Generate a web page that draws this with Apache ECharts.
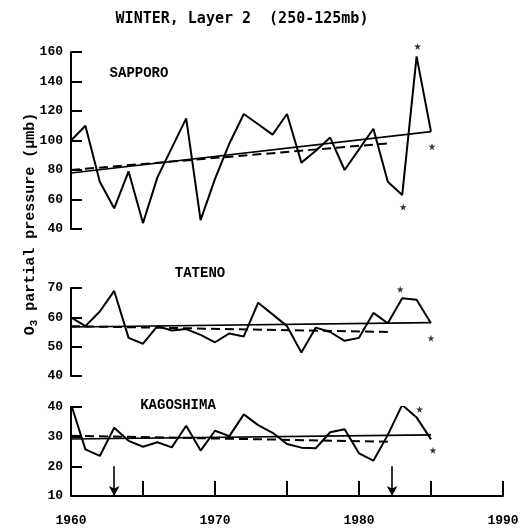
<!DOCTYPE html>
<html>
<head>
<meta charset="utf-8">
<script src="https://cdn.jsdelivr.net/npm/echarts@6/dist/echarts.min.js"></script>
<style>
html,body{margin:0;padding:0;background:#fff;}
#chart{width:529px;height:532px;}
</style>
</head>
<body>
<div id="chart"></div>
<script>
// ---- data ----
const years = [1960,1961,1962,1963,1964,1965,1966,1967,1968,1969,1970,1971,1972,1973,1974,1975,1976,1977,1978,1979,1980,1981,1982,1983,1984,1985];
const sapporo = [100,110,72,54,79,44,75,95,115,46,74,98,118,111,104,118,85,93,102,80,94,108,72,63,157,106];
const tateno = [60,57,62,69,53,51,57,55.5,56,54,51.5,54.5,53.5,65,61,57,48,56.5,55,52,53,61.5,58,66.5,66,58];
const kagoshima = [41,25.7,23.5,33,28.6,26.6,28.1,26.4,33.7,25.3,32,30.2,37.5,33.9,31.3,27.5,26.3,26.1,31.5,32.5,24.4,21.9,30.6,40.7,36.5,29.1];

// trend lines: [startYear, startValue, endYear, endValue]
const sapporoTrendAll = [1960, 78, 1985, 106];
const sapporoTrendPre = [1960, 80, 1982, 98];
const tatenoTrendAll = [1960, 56.7, 1985, 58.2];
const tatenoTrendPre = [1960, 57, 1982, 55];
const kagoshimaTrendAll = [1960, 29.2, 1985, 30.6];
const kagoshimaTrendPre = [1960, 30.3, 1982, 28.3];

// years marked with an asterisk
const sapporoStars = [1983, 1984, 1985];
const tatenoStars = [1983, 1985];
const kagoshimaStars = [1983, 1984, 1985];

// arrows on the time axis
const arrowYears = [1963, 1982.3];

const stationNames = ['SAPPORO', 'TATENO', 'KAGOSHIMA'];
const yRanges = [[40, 160, 20], [40, 70, 10], [10, 40, 10]];
const xTickLabels = [1960, 1970, 1980, 1990];

// ---- styling (not data) ----
const starOffsets = {
  sapporo: [[1, 12], [1, -10], [1, 15]],
  tateno: [[-2, -9], [0, 15]],
  kagoshima: [[-2, -11], [3, -8], [2, 11]]
};
const STAR = 'path://M50,0 L61,35 L98,35 L68,57 L79,91 L50,70 L21,91 L32,57 L2,35 L39,35 Z';
const MONO = '"Liberation Mono", "DejaVu Sans Mono", monospace';

const chart = echarts.init(document.getElementById('chart'));

const grids = [
  {left: 71, right: 26, top: 52, height: 177},
  {left: 71, right: 26, top: 288, height: 88},
  {left: 71, right: 26, top: 407, height: 89}
];

function pairs(vals) { return years.map((y, i) => [y, vals[i]]); }
function trend(t) { return [[t[0], t[1]], [t[2], t[3]]]; }
function stars(list, vals, offs) {
  return list.map((y, i) => ({
    value: [y, vals[years.indexOf(y)]],
    symbolOffset: offs[i]
  }));
}

const xAxes = grids.map((g, i) => ({
  type: 'value', gridIndex: i, min: 1960, max: 1990, interval: 5,
  show: i === 2,
  splitLine: {show: false},
  axisLine: {show: i === 2, onZero: false, lineStyle: {color: '#000', width: 2}},
  axisTick: {show: i === 2, inside: true, length: 15, lineStyle: {color: '#000', width: 2}},
  axisLabel: {
    show: i === 2, margin: 18, showMinLabel: true, showMaxLabel: true,
    color: '#000', fontFamily: MONO, fontSize: 13, fontWeight: 'bold',
    formatter: v => xTickLabels.indexOf(v) >= 0 ? String(v) : ''
  }
}));

const yAxes = yRanges.map((r, i) => ({
  type: 'value', gridIndex: i, min: r[0], max: r[1], interval: r[2],
  splitLine: {show: false},
  axisLine: {show: true, onZero: false, lineStyle: {color: '#000', width: 2}},
  axisTick: {show: true, inside: true, length: 11, lineStyle: {color: '#000', width: 2}},
  axisLabel: {margin: 8, color: '#000', fontFamily: MONO, fontSize: 13, fontWeight: 'bold', showMinLabel: true, showMaxLabel: true}
}));

const stationData = [
  {vals: sapporo, all: sapporoTrendAll, pre: sapporoTrendPre, st: sapporoStars, off: starOffsets.sapporo},
  {vals: tateno, all: tatenoTrendAll, pre: tatenoTrendPre, st: tatenoStars, off: starOffsets.tateno},
  {vals: kagoshima, all: kagoshimaTrendAll, pre: kagoshimaTrendPre, st: kagoshimaStars, off: starOffsets.kagoshima}
];

const series = [];
stationData.forEach((s, i) => {
  series.push({
    type: 'line', xAxisIndex: i, yAxisIndex: i, data: trend(s.all),
    symbol: 'none', lineStyle: {color: '#000', width: 1.6}, z: 2, silent: true
  });
  series.push({
    type: 'line', xAxisIndex: i, yAxisIndex: i, data: trend(s.pre),
    symbol: 'none', lineStyle: {color: '#000', width: 2, type: [9, 5]}, z: 2, silent: true
  });
  const main = {
    type: 'line', xAxisIndex: i, yAxisIndex: i, data: pairs(s.vals),
    symbol: 'none', lineStyle: {color: '#000', width: 2}, z: 3, silent: true
  };
  if (i === 2) {
    main.markLine = {
      silent: true, symbol: ['none', 'arrow'], symbolSize: [8, 10],
      label: {show: false},
      lineStyle: {color: '#000', width: 1.6, type: 'solid'},
      data: arrowYears.map(y => [{coord: [y, 20]}, {coord: [y, 10]}])
    };
  }
  series.push(main);
  series.push({
    type: 'scatter', xAxisIndex: i, yAxisIndex: i, data: stars(s.st, s.vals, s.off),
    symbol: STAR, symbolSize: 7, itemStyle: {color: '#000'}, z: 4, silent: true
  });
});

const graphic = [
  {type: 'text', x: 242, y: 19, style: {text: 'WINTER, Layer 2  (250-125mb)', fill: '#000',
    font: 'bold 15px "DejaVu Sans Mono", monospace', align: 'center', verticalAlign: 'middle'}},
  {type: 'text', x: 139, y: 73, style: {text: stationNames[0], fill: '#000',
    font: 'bold 14px ' + MONO, align: 'center', verticalAlign: 'middle'}},
  {type: 'text', x: 200, y: 273, style: {text: stationNames[1], fill: '#000',
    font: 'bold 14px ' + MONO, align: 'center', verticalAlign: 'middle'}},
  {type: 'text', x: 178, y: 405, style: {text: stationNames[2], fill: '#000',
    font: 'bold 14px ' + MONO, align: 'center', verticalAlign: 'middle'}},
  {type: 'text', x: 30, y: 224, rotation: Math.PI / 2, style: {
    text: '{n|O}{s|3}{n| partial pressure (\u03bcmb)}', fill: '#000', align: 'center', verticalAlign: 'middle',
    rich: {
      n: {fontFamily: MONO, fontSize: 15, fontWeight: 'bold', fill: '#000', lineHeight: 20, verticalAlign: 'middle'},
      s: {fontFamily: MONO, fontSize: 11, fontWeight: 'bold', fill: '#000', lineHeight: 20, verticalAlign: 'bottom', padding: [8, 0, 0, 0]}
    }
  }}
];

chart.setOption({
  animation: false,
  backgroundColor: '#fff',
  grid: grids,
  xAxis: xAxes,
  yAxis: yAxes,
  series: series,
  graphic: graphic
});
</script>
</body>
</html>
